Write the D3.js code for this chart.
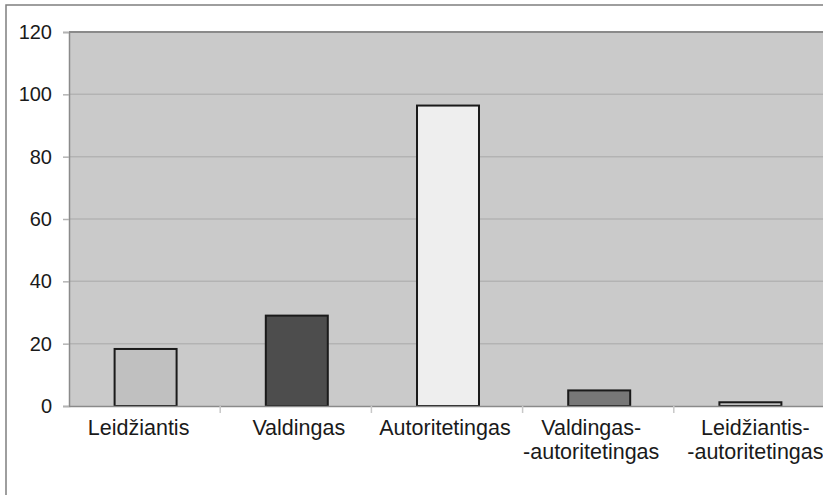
<!DOCTYPE html>
<html>
<head>
<meta charset="utf-8">
<script src="https://cdn.jsdelivr.net/npm/d3@7"></script>
<style>
  html, body { margin: 0; padding: 0; background: #fff; }
  svg { display: block; }
</style>
</head>
<body>
<div id="chart"></div>
<script>
// duomenys
const categories = [
  ['Leidžiantis'],
  ['Valdingas'],
  ['Autoritetingas'],
  ['Valdingas-', '-autoritetingas'],
  ['Leidžiantis-', '-autoritetingas']
];
const values = [18.3, 29, 96.4, 5, 1.2];
const barColors = ['#c0c0c0', '#4d4d4d', '#eeeeee', '#777777', '#c0c0c0'];
const yTicks = [0, 20, 40, 60, 80, 100, 120];

// labels are not exactly centred in the original
const labelNudge = [-6, 3, -2, -7, 6];

const width = 823, height = 495;
const plot = { left: 69, top: 32, right: 825, bottom: 406 };

const svg = d3.select('#chart').append('svg')
  .attr('width', width)
  .attr('height', height);

// outer frame
svg.append('rect')
  .attr('x', 6).attr('y', 5)
  .attr('width', 840).attr('height', 520)
  .attr('fill', '#fff')
  .attr('stroke', '#7f7f7f')
  .attr('stroke-width', 1.5);

const names = categories.map(c => c.join(' '));

const x = d3.scaleBand()
  .domain(names)
  .range([plot.left, plot.right]);

const y = d3.scaleLinear()
  .domain([0, 120])
  .range([plot.bottom, plot.top]);

// plot background
svg.append('rect')
  .attr('x', plot.left).attr('y', plot.top)
  .attr('width', plot.right - plot.left)
  .attr('height', plot.bottom - plot.top)
  .attr('fill', '#cacaca');

// grid
svg.append('g')
  .selectAll('line')
  .data(yTicks.filter(t => t > 0 && t < 120))
  .enter().append('line')
  .attr('x1', plot.left).attr('x2', plot.right)
  .attr('y1', d => y(d)).attr('y2', d => y(d))
  .attr('stroke', '#b3b3b3')
  .attr('stroke-width', 1.5);

// top border of plot
svg.append('line')
  .attr('x1', plot.left).attr('x2', plot.right)
  .attr('y1', plot.top).attr('y2', plot.top)
  .attr('stroke', '#8a8a8a')
  .attr('stroke-width', 2);

// y axis
const yAxis = svg.append('g')
  .attr('transform', `translate(${plot.left},0)`)
  .call(d3.axisLeft(y).tickValues(yTicks).tickSize(6).tickPadding(11));
yAxis.select('.domain').attr('stroke', '#8a8a8a').attr('stroke-width', 1.5);
yAxis.selectAll('.tick line').attr('stroke', '#b3b3b3').attr('stroke-width', 1.5);
yAxis.selectAll('.tick text')
  .style('font-family', 'Arial, "Liberation Sans", sans-serif')
  .style('font-size', '20px')
  .attr('fill', '#1a1a1a');

// bars
const barW = x.bandwidth() * 0.41;
svg.append('g')
  .selectAll('rect')
  .data(values)
  .enter().append('rect')
  .attr('x', (d, i) => x(names[i]) + x.bandwidth() / 2 - barW / 2 + 1)
  .attr('y', d => y(d))
  .attr('width', barW)
  .attr('height', d => y(0) - y(d))
  .attr('fill', (d, i) => barColors[i])
  .attr('stroke', '#1a1a1a')
  .attr('stroke-width', 2);

// x axis
const xAxis = svg.append('g')
  .attr('transform', `translate(0,${plot.bottom})`)
  .call(d3.axisBottom(x).tickSize(0).tickFormat(''));
xAxis.select('.domain').attr('stroke', '#8a8a8a').attr('stroke-width', 1.5);

// category separator ticks
svg.append('g')
  .selectAll('line')
  .data(names.slice(1))
  .enter().append('line')
  .attr('x1', d => x(d)).attr('x2', d => x(d))
  .attr('y1', plot.bottom).attr('y2', plot.bottom + 7)
  .attr('stroke', '#c8c8c8')
  .attr('stroke-width', 1.5);

// category labels
const labels = svg.append('g')
  .selectAll('text')
  .data(categories)
  .enter().append('text')
  .attr('text-anchor', 'middle')
  .style('font-family', 'Arial, "Liberation Sans", sans-serif')
  .style('font-size', '21.5px')
  .attr('fill', '#1a1a1a');

labels.each(function(lines, i) {
  const cx = x(names[i]) + x.bandwidth() / 2 + labelNudge[i];
  d3.select(this).selectAll('tspan')
    .data(lines)
    .enter().append('tspan')
    .attr('x', cx)
    .attr('y', (d, j) => 435 + j * 24)
    .text(d => d);
});
</script>
</body>
</html>
